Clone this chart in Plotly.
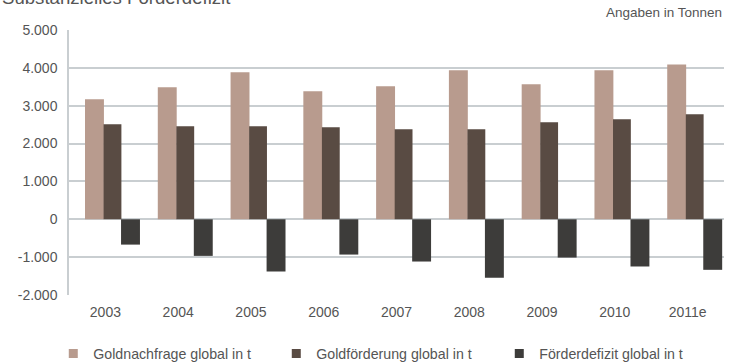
import plotly.graph_objects as go

# Categories and series (tonnes)
years = ["2003", "2004", "2005", "2006", "2007", "2008", "2009", "2010", "2011e"]
demand = [3170, 3486, 3881, 3380, 3513, 3934, 3566, 3934, 4091]
production = [2511, 2458, 2458, 2432, 2379, 2379, 2564, 2643, 2775]
deficit = [-669, -967, -1380, -932, -1116, -1546, -1011, -1247, -1335]

series_names = ["Goldnachfrage global in t", "Goldförderung global in t", "Förderdefizit global in t"]
series_colors = ["#b89b8e", "#594b43", "#3d3c3a"]

y_ticks = [-2000, -1000, 0, 1000, 2000, 3000, 4000, 5000]
y_tick_labels = ["-2.000", "-1.000", "0", "1.000", "2.000", "3.000", "4.000", "5.000"]

title_text = "Substanzielles Förderdefizit"
unit_text = "Angaben in Tonnen"

font_family = "Liberation Sans, Arial, sans-serif"
text_color = "#555555"
grid_color = "#c9ced1"

fig = go.Figure()

offsets = [-0.28, -0.025, 0.215]
widths = [0.26, 0.245, 0.26]
for vals, name, color, off, w in zip([demand, production, deficit], series_names,
                                     series_colors, offsets, widths):
    fig.add_trace(go.Bar(x=years, y=vals, name=name, marker_color=color,
                         marker_line_width=0, offset=off, width=w,
                         showlegend=False))
    # small square legend key
    fig.add_trace(go.Scatter(x=[None], y=[None], mode="markers", name=name,
                             marker=dict(symbol="square", size=9, color=color),
                             showlegend=True))

fig.update_layout(
    width=738, height=364,
    margin=dict(l=69, r=14, t=29.5, b=69, autoexpand=False),
    paper_bgcolor="white", plot_bgcolor="white",
    barmode="overlay",
    showlegend=True,
    legend=dict(orientation="h", x=-0.024, xanchor="left",
                y=-0.222, yanchor="middle",
                font=dict(family=font_family, size=14.2, color=text_color),
                entrywidth=178, itemwidth=30, bgcolor="rgba(0,0,0,0)"),
    xaxis=dict(type="category", range=[-0.5, 8.5], showgrid=False,
               showline=False, ticks="", zeroline=False, ticklabelstandoff=7,
               tickfont=dict(family=font_family, size=14, color=text_color)),
    yaxis=dict(range=[-2000, 5000], tickvals=y_ticks, ticktext=y_tick_labels,
               showgrid=True, gridcolor=grid_color, gridwidth=1.5,
               zeroline=False, showline=True, linecolor=grid_color, linewidth=1.5,
               ticks="", ticklabelstandoff=7,
               tickfont=dict(family=font_family, size=14, color=text_color)),
    annotations=[
        dict(text=title_text, xref="paper", yref="paper", x=-69/655, y=1.077,
             xanchor="left", yanchor="bottom", showarrow=False,
             font=dict(family=font_family, size=18.6, color=text_color)),
        dict(text=unit_text, xref="paper", yref="paper", x=1.0, y=1.03,
             xanchor="right", yanchor="bottom", showarrow=False,
             font=dict(family=font_family, size=13.5, color=text_color)),
    ],
)

fig.write_html("out.html")
